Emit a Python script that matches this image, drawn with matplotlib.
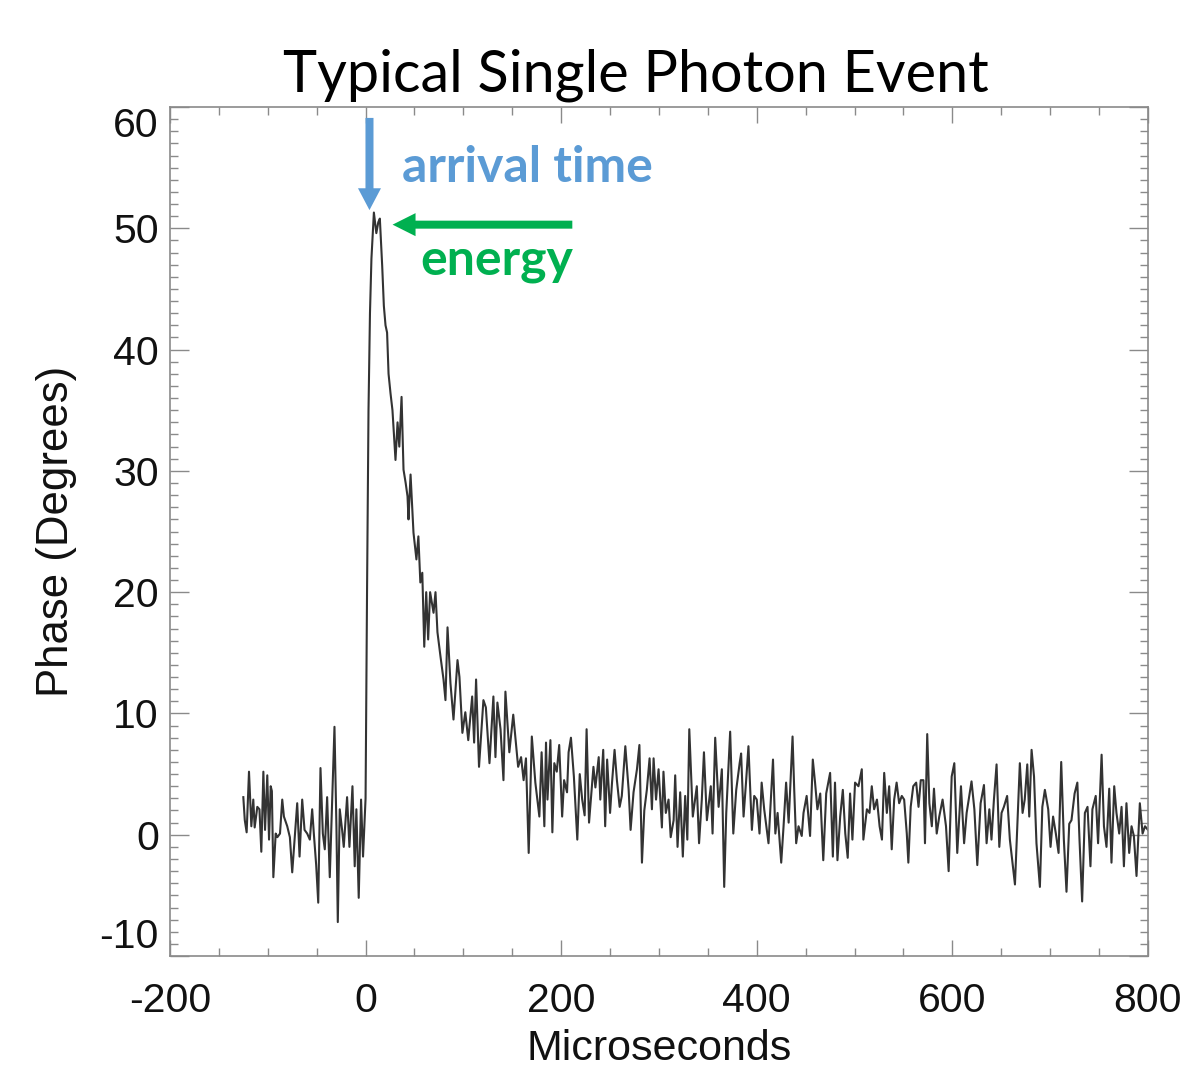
import numpy as np
from matplotlib import pyplot as plt

plt.rcParams['axes.unicode_minus'] = False

# baseline before the photon hits (microseconds, degrees)
pre_t = [-125.0, -123.5, -121.6, -119.2, -116.8, -114.8, -113.4, -110.7, -108.5, -106.6,
         -104.5, -102.8, -100.5, -98.7, -97.0, -95.8, -94.3, -91.9, -90.2, -87.5,
         -85.2, -83.5, -80.1, -77.4, -75.0, -72.6, -69.9, -67.5, -64.8, -62.4,
         -59.7, -57.0, -54.6, -52.9, -50.5, -48.4, -46.1, -43.7, -41.7, -39.3,
         -36.6, -34.2, -31.8, -29.8, -28.4, -26.4, -24.0, -22.3, -18.9, -16.5,
         -13.4, -11.1, -9.4, -7.0, -4.6, -2.6]
pre_v = [3.1, 1.2, 0.2, 5.2, 0.7, 2.9, 0.6, 2.3, 2.1, -1.4,
         5.2, 0.4, 4.9, -0.4, 4.0, 3.6, -3.5, 0.1, -0.2, 0.1,
         2.9, 1.5, 0.7, -0.2, -3.1, -0.4, 2.6, -1.8, 2.9, 0.4,
         0.1, -0.4, 2.1, 0.1, -2.5, -5.6, 5.5, 0.1, -1.2, 3.1,
         -3.5, 2.6, 8.9, 0.7, -7.2, 2.1, 0.4, -1.0, 3.1, -1.0,
         4.0, -2.6, 2.1, -5.2, 2.9, -1.8]

# rise and decay of the pulse
pulse_t = [0.0, 1.5, 3.0, 4.5, 6.0, 8.5, 11.0, 13.0, 14.6, 17.0,
           18.7, 20.4, 22.0, 23.5, 25.5, 27.5, 30.6, 32.7, 34.5, 36.8,
           38.8, 41.0, 42.9, 43.9, 46.0, 49.0, 52.0, 54.0, 56.0, 58.0,
           60.0, 62.0, 64.0, 66.0, 69.5, 71.5, 73.5, 76.6, 79.7, 81.7,
           83.8, 86.8, 89.9, 94.0, 96.0, 99.0, 102.0, 105.0, 109.0, 111.0,
           113.0, 116.0, 120.5, 123.0, 126.7, 130.7, 132.8, 134.8, 138.0, 141.0,
           143.0, 147.0, 151.0, 156.0, 159.0, 161.6, 164.0, 166.8]
pulse_v = [3.0, 20.0, 35.0, 43.0, 47.5, 51.3, 49.6, 50.5, 50.8, 46.9,
           43.6, 42.0, 41.4, 38.0, 36.4, 35.0, 30.9, 34.0, 32.0, 36.1,
           30.1, 29.0, 27.9, 26.0, 29.7, 24.9, 22.7, 24.6, 20.8, 21.6,
           15.5, 20.0, 16.1, 20.0, 18.3, 20.0, 16.7, 14.7, 12.8, 11.1,
           17.1, 12.5, 9.5, 14.4, 13.0, 8.4, 10.1, 7.8, 11.4, 7.6,
           12.8, 5.6, 11.1, 10.5, 5.9, 11.4, 6.4, 10.9, 8.7, 4.5,
           11.8, 6.8, 9.9, 5.6, 6.4, 4.5, 6.3, -1.5]

# long noisy tail
tail_t = [170.0, 173.6, 177.7, 180.0, 182.8, 184.5, 186.0, 189.0, 191.0, 193.0,
          195.5, 198.0, 201.0, 203.0, 206.0, 207.6, 210.0, 213.0, 216.5, 219.0,
          221.5, 224.0, 226.0, 228.5, 233.0, 235.0, 238.4, 240.0, 243.0, 245.0,
          247.0, 250.0, 252.0, 254.6, 257.0, 259.8, 262.0, 265.6, 269.0, 271.0,
          274.0, 277.5, 280.0, 282.6, 285.0, 287.6, 290.4, 292.8, 294.5, 297.0,
          299.6, 303.0, 304.6, 307.0, 309.8, 312.0, 315.0, 316.6, 319.0, 321.7,
          324.4, 326.8, 329.0, 331.0, 334.6, 338.7, 341.0, 343.8, 346.0, 349.0,
          353.0, 354.8, 357.5, 361.0, 364.3, 366.7, 368.8, 372.8, 376.0, 379.0,
          382.5, 384.0, 386.5, 389.0, 391.5, 395.0, 397.4, 400.0, 402.8, 405.0,
          407.6, 412.0, 416.6, 419.0, 421.3, 425.0, 427.4, 430.0, 432.6, 436.6,
          438.3, 440.3, 442.7, 446.0, 447.8, 451.0, 454.5, 457.3, 459.6, 462.0,
          464.9, 468.0, 471.0, 475.0, 477.8, 480.0, 482.5, 485.3, 488.0, 490.5,
          493.0, 495.4, 497.8, 500.5, 504.0, 507.4, 509.0, 512.6, 515.3, 517.6,
          520.0, 522.9, 525.6, 528.0, 530.3, 533.0, 535.4, 538.0, 540.5, 543.0,
          545.6, 548.3, 550.7, 553.4, 555.0, 557.4, 560.0, 563.0, 565.4, 567.7,
          570.4, 572.0, 574.3, 576.5, 579.0, 581.2, 584.0, 586.6, 590.0, 593.5,
          596.2, 599.3, 602.0, 605.0, 608.8, 612.0, 614.6, 619.6, 622.5, 625.5,
          628.9, 632.3, 635.0, 637.8, 640.0, 642.5, 645.2, 648.0, 650.3, 652.7,
          656.0, 658.8, 664.0, 666.3, 669.0, 671.8, 674.0, 676.6, 678.6, 681.0,
          683.5, 686.0, 689.5, 692.0, 694.6, 698.0, 700.4, 703.0, 705.8, 708.6,
          711.3, 714.0, 716.7, 719.5, 721.8, 725.0, 727.8, 730.0, 732.7, 735.5,
          738.2, 741.2, 743.2, 746.6, 749.0, 752.6, 755.0, 757.6, 760.4, 762.7,
          765.5, 767.8, 770.6, 773.0, 775.4, 778.0, 780.8, 783.2, 785.6, 788.3,
          791.7, 794.5, 797.0, 800.0]
tail_v = [8.1, 4.3, 1.5, 6.8, 0.7, 7.6, 2.9, 7.8, 0.2, 5.9,
          5.2, 7.4, 1.5, 4.5, 3.5, 6.8, 8.0, 4.8, -0.4, 5.0,
          2.9, 1.6, 8.7, 1.0, 5.6, 3.9, 6.4, 2.9, 7.0, 0.7,
          6.2, 1.8, 4.3, 7.0, 4.5, 2.3, 3.2, 7.3, 3.7, 0.4,
          3.5, 5.4, 7.4, -2.3, 2.0, 3.7, 6.3, 2.1, 6.3, 2.9,
          5.4, 0.6, 5.2, 1.8, 2.9, -0.2, 1.2, 4.9, -1.0, 3.5,
          -1.8, 3.2, -0.4, 8.7, 1.5, 4.0, -0.7, 2.9, 6.8, 1.2,
          4.0, 0.1, 8.0, 2.3, 5.4, -4.3, 1.8, 8.5, 0.1, 3.7,
          5.9, 6.7, 1.5, 4.3, 7.3, 0.4, 3.2, 2.9, 0.1, 4.3,
          2.1, -0.7, 6.2, 0.1, 1.8, -2.3, 0.7, 4.3, 1.0, 8.1,
          3.7, -0.7, 0.7, -0.1, 1.8, 3.2, -0.1, 6.2, 4.3, 2.1,
          3.4, -2.1, 3.4, 5.1, -1.8, 4.3, -2.1, 1.5, 3.7, 0.1,
          -1.9, 3.4, -0.4, 4.3, 4.0, 5.4, -0.4, 2.1, 1.8, 4.0,
          2.1, 2.9, 0.7, -0.4, 5.1, 1.8, 4.0, -1.2, 2.9, 4.3,
          2.6, 3.2, 2.9, 0.1, -2.3, 2.3, 4.0, 4.3, 2.3, 4.5,
          4.5, -0.7, 8.3, 2.6, 0.7, 3.8, 0.1, 1.5, 2.9, 0.7,
          -3.0, 4.8, 5.9, -1.5, 4.0, -0.7, 1.8, 4.4, 2.1, -2.5,
          2.6, 4.1, -0.7, 2.1, -0.4, 2.9, 5.8, -1.0, 1.8, 2.3,
          3.2, -0.4, -4.1, 0.4, 5.9, 1.8, 2.9, 5.8, 1.5, 7.0,
          4.8, -0.7, -4.3, 2.3, 3.7, 2.1, -1.0, 1.5, 0.1, -1.5,
          6.0, -0.4, -4.7, 0.9, 1.2, 3.4, 4.3, -0.4, -5.5, 1.8,
          2.3, -2.6, 2.1, 3.2, -0.7, 6.6, 0.7, -1.0, 3.8, -2.3,
          4.0, 1.8, 0.1, 2.3, -2.6, 2.6, -1.5, 0.7, -0.1, -3.4,
          2.6, 0.1, 0.7, 0.4]

blue = '#5B9BD5'
green = '#00B050'

t = np.array(pre_t + pulse_t + tail_t)
phase = np.array(pre_v + pulse_v + tail_v)

fig = plt.figure(figsize=(11.82, 10.70), dpi=100)
ax = fig.add_axes([0.1438, 0.1065, 0.8274, 0.7935])

ax.plot(t, phase, color='#333333', lw=1.5)

ax.set_xlim(-200, 800)
ax.set_ylim(-10, 60)
ax.set_xticks(range(-200, 801, 200))
ax.set_xticks(range(-200, 801, 50), minor=True)
ax.set_yticks(range(-10, 61, 10))
ax.set_yticks(range(-10, 61, 1), minor=True)

for s in ax.spines.values():
    s.set_color('#8a8a8a')
    s.set_linewidth(1.2)

ax.tick_params(which='both', direction='in', top=True, right=True,
               color='#8a8a8a', width=1.0, labelcolor='#111111')
ax.tick_params(axis='x', which='major', length=11.5, pad=19)
ax.tick_params(axis='y', which='major', length=13.7, pad=8)
ax.tick_params(which='minor', length=5.8)

for lab in ax.get_xticklabels() + ax.get_yticklabels():
    lab.set_fontfamily('Liberation Sans')
    lab.set_fontsize(29.5)

# edge labels sit inside the frame like the original
yt = ax.yaxis.get_major_ticks()
yt[0].label1.set_va('bottom')
yt[-1].label1.set_va('top')

ax.set_xlabel('Microseconds', fontfamily='Liberation Sans', fontsize=31,
              color='#111111', labelpad=6)
ax.set_ylabel('Phase (Degrees)', fontfamily='Liberation Sans', fontsize=31.5,
              color='#111111', labelpad=16)

fig.text(0.538, 1 - 92 / 1070, 'Typical Single Photon Event', ha='center',
         va='baseline', fontsize=41.5, fontfamily='Lato')

# arrows + labels
ax.arrow(4, 59.1, 0, -7.6, width=8.2, head_width=23.5, head_length=1.8,
         length_includes_head=True, color=blue, lw=0, zorder=3)
ax.arrow(211.4, 50.3, -183.8, 0, width=0.66, head_width=1.9, head_length=23.5,
         length_includes_head=True, color=green, lw=0, zorder=3)
ax.text(37.5, 53.8, 'arrival time', color=blue, fontsize=36, fontweight='bold',
        fontfamily='Lato', va='baseline')
ax.text(56, 46.2, 'energy', color=green, fontsize=36, fontweight='bold',
        fontfamily='Lato', va='baseline')

fig.savefig('out.png', dpi=100)
